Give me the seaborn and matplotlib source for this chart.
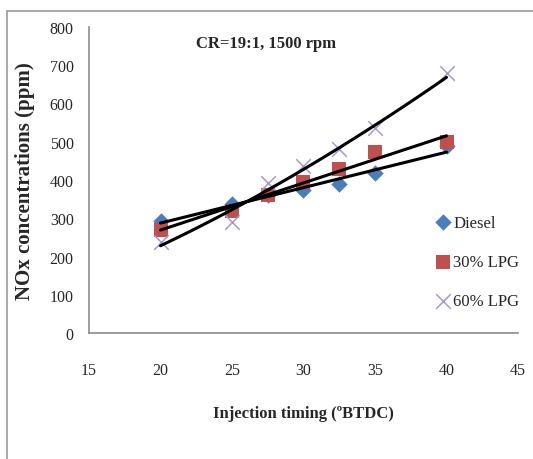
import numpy as np
import pandas as pd
import matplotlib
matplotlib.use("Agg")
import matplotlib.pyplot as plt
from matplotlib.patches import Rectangle
import seaborn as sns

# Injection timing (deg BTDC) and NOx emissions (ppm) at CR=19:1, 1500 rpm
timing = [20, 25, 27.5, 30, 32.5, 35, 40]
nox_diesel = [292, 338, 360, 375, 390, 418, 488]
nox_lpg30 = [270, 318, 362, 396, 428, 472, 500]
nox_lpg60 = [238, 290, 393, 436, 480, 536, 680]
series = ["Diesel", "30% LPG", "60% LPG"]
x_ticks = [15, 20, 25, 30, 35, 40, 45]
y_ticks = [0, 100, 200, 300, 400, 500, 600, 700, 800]

df = pd.DataFrame({
    "timing": timing * 3,
    "nox": nox_diesel + nox_lpg30 + nox_lpg60,
    "fuel": [series[0]] * len(timing) + [series[1]] * len(timing) + [series[2]] * len(timing),
})

sns.set_theme(style="white")
plt.rcParams["font.family"] = ["Liberation Serif", "DejaVu Serif"]

W, H = 533, 460
fig = plt.figure(figsize=(W / 100, H / 100), dpi=100)
ax = fig.add_axes([89 / W, 1 - 334 / H, (518 - 89) / W, (334 - 28) / H])

styles = {
    "Diesel": dict(marker="D", color="#4A7EBB", s=70, linewidth=0),
    "30% LPG": dict(marker="s", color="#C0504D", s=110, linewidth=0),
    "60% LPG": dict(marker="x", color="#A898CC", s=110, linewidth=1.1),
}
for name in series:
    sub = df[df["fuel"] == name]
    sns.scatterplot(data=sub, x="timing", y="nox", ax=ax, label=name,
                    zorder=3, **styles[name])

# Trend lines: linear for Diesel and 30% LPG, power law for 60% LPG
xs = np.linspace(min(timing), max(timing), 100)
for vals in (nox_diesel, nox_lpg30):
    k, b = np.polyfit(timing, vals, 1)
    ax.plot(xs, k * xs + b, color="black", lw=2.2, zorder=4)
k, b = np.polyfit(np.log(timing), np.log(nox_lpg60), 1)
ax.plot(xs, np.exp(b) * xs ** k, color="black", lw=2.2, zorder=4)

ax.set_xlim(15, 45)
ax.set_ylim(0, 800)
ax.set_xticks(x_ticks)
ax.set_yticks(y_ticks)
ax.tick_params(axis="both", length=0, labelsize=11.5)
ax.tick_params(axis="x", pad=21)
ax.tick_params(axis="y", pad=11)
for side in ("top", "right"):
    ax.spines[side].set_visible(False)
for side in ("left", "bottom"):
    ax.spines[side].set_color("#8c8c8c")
    ax.spines[side].set_linewidth(1.2)

ax.set_xlabel("Injection timing (ºBTDC)", fontsize=12, fontweight="bold", va="center")
ax.xaxis.set_label_coords(0.5, (334 - 414) / 306)
ax.set_ylabel("NOx concentrations (ppm)", fontsize=15, fontweight="bold", va="center")
ax.yaxis.set_label_coords((25 - 89) / 429, 0.5)

fig.text(265.5 / W, 1 - 44 / H, "CR=19:1, 1500 rpm", ha="center", va="center",
         fontsize=12, fontweight="bold")

leg = ax.legend(loc="center left", bbox_to_anchor=(435 / W, 1 - 263 / H),
                bbox_transform=fig.transFigure, frameon=False, fontsize=12,
                borderpad=0, borderaxespad=0, handlelength=1.0,
                handletextpad=0.1, labelspacing=1.4)

# Chart-area border
fig.add_artist(Rectangle((7 / W, -0.1), 1.2, (H - 12) / H + 0.1,
                         transform=fig.transFigure, fill=False,
                         edgecolor="#9a9a9a", lw=1.2, clip_on=False))

fig.savefig("out.png", dpi=100)
